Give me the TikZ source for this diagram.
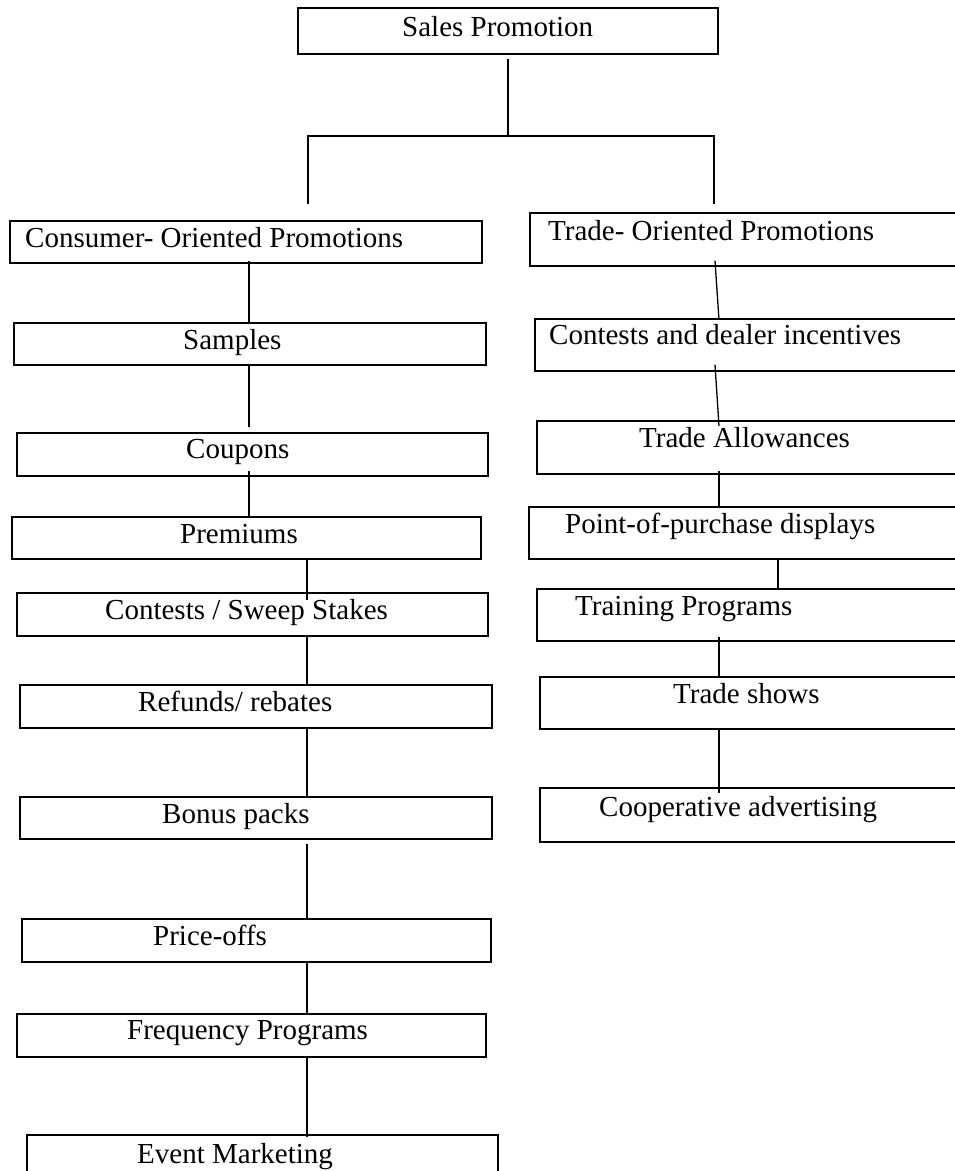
\documentclass[tikz,border=0pt]{standalone}
\usepackage{fontspec}
\setmainfont{Liberation Serif}
\usetikzlibrary{calc}
\tikzset{
  box/.style 2 args={draw, line width=1.6pt, minimum width=#1pt, minimum height=#2pt,
                     anchor=north west, inner sep=0pt},
  lbl/.style={anchor=base west, inner sep=0pt, font=\fontsize{29}{34}\selectfont},
  link/.style={line width=1.3pt},
  trunk/.style={line width=1.5pt},
}
\begin{document}
\begin{tikzpicture}[x=1pt, y=-1pt]
\useasboundingbox (0,0) rectangle (955,1171);
\clip (0,0) rectangle (955,1171);
\fill[white] (0,0) rectangle (955,1171);

% root
\node[box={420}{46}] (root) at (297,7) {};
\node[lbl] (root-t) at (402,36) {Sales Promotion};

% consumer column
\node[box={472}{42}] (cop) at (9,220) {};
\node[box={472}{42}] (smp) at (13,322) {};
\node[box={471}{43}] (cou) at (16,432) {};
\node[box={469}{42}] (pre) at (11,516) {};
\node[box={471}{43}] (con) at (16,592) {};
\node[box={472}{43}] (ref) at (19,684) {};
\node[box={472}{42}] (bon) at (19,796) {};
\node[box={469}{43}] (pri) at (21,918) {};
\node[box={469}{43}] (fre) at (16,1013) {};
\node[box={471}{60}] (evt) at (26,1134) {};

\node[lbl] (cop-t) at (25,247)  {Consumer- Oriented Promotions};
\node[lbl] (smp-t) at (183,349) {Samples};
\node[lbl] (cou-t) at (186,458) {Coupons};
\node[lbl] (pre-t) at (180,543) {Premiums};
\node[lbl] (con-t) at (105,619) {Contests / Sweep Stakes};
\node[lbl] (ref-t) at (138,711) {Refunds/ rebates};
\node[lbl] (bon-t) at (162,823) {Bonus packs};
\node[lbl] (pri-t) at (153,945) {Price-offs};
\node[lbl] (fre-t) at (127,1039) {Frequency Programs};
\node[lbl] (evt-t) at (137,1163) {Event Marketing};

% trade column (runs off the right edge)
\node[box={446}{53}] (tor) at (529,212) {};
\node[box={441}{52}] (cdi) at (534,318) {};
\node[box={439}{53}] (tal) at (536,420) {};
\node[box={447}{52}] (pop) at (528,506) {};
\node[box={439}{52}] (trp) at (536,588) {};
\node[box={436}{52}] (trs) at (539,676) {};
\node[box={436}{54}] (coa) at (539,787) {};

\node[lbl] (tor-t) at (548,240) {Trade- Oriented Promotions};
\node[lbl] (cdi-t) at (549,344) {Contests and dealer incentives};
\node[lbl] (tal-t) at (639,447) {Trade Allowances};
\node[lbl] (pop-t) at (565,533) {Point-of-purchase displays};
\node[lbl] (trp-t) at (575,615) {Training Programs};
\node[lbl] (trs-t) at (673,703) {Trade shows};
\node[lbl] (coa-t) at (599,816) {Cooperative advertising};

% connector columns
\coordinate (hub) at (508,136);
\coordinate (jl)  at (308,136);
\coordinate (jr)  at (714,136);
\coordinate (dl)  at (308,204);
\coordinate (dr)  at (714,204);
\coordinate (cL) at (249,0);
\coordinate (cM) at (307,0);
\coordinate (rA) at (715,0);
\coordinate (rB) at (719,0);
\coordinate (rC) at (778,0);

% root split
\draw[trunk] ($(root.south -| hub)+(0,4)$) -- (hub);
\draw[trunk] (dl) -- (jl) -- (jr) -- (dr);

% consumer links
\draw[link] ($(cop.south -| cL)+(0,-3)$) -- (smp.north -| cL);
\draw[link] (smp.south -| cL) -- ($(cou.north -| cL)+(0,-5)$);
\draw[link] ($(cou.south -| cL)+(0,-6)$) -- (pre.north -| cL);
\draw[link] (pre.south -| cM) -- ($(con.north -| cM)+(0,8)$);
\draw[link] (con.south -| cM) -- ($(ref.north -| cM)+(0,2)$);
\draw[link] (ref.south -| cM) -- (bon.north -| cM);
\draw[link] ($(bon.south -| cM)+(0,4)$) -- ($(pri.north -| cM)+(0,2)$);
\draw[link] (pri.south -| cM) -- (fre.north -| cM);
\draw[link] (fre.south -| cM) -- ($(evt.north -| cM)+(0,3)$);

% trade links
\draw[link] ($(tor.south -| rA)+(0,-6)$) -- ($(cdi.north -| rB)+(0,2)$);
\draw[link] ($(cdi.south -| rA)+(0,-7)$) -- ($(tal.north -| rB)+(0,6)$);
\draw[link] ($(tal.south -| rB)+(0,-4)$) -- (pop.north -| rB);
\draw[link] (pop.south -| rC) -- (trp.north -| rC);
\draw[link] ($(trp.south -| rB)+(0,-5)$) -- (trs.north -| rB);
\draw[link] (trs.south -| rB) -- ($(coa.north -| rB)+(0,6)$);
\end{tikzpicture}
\end{document}
